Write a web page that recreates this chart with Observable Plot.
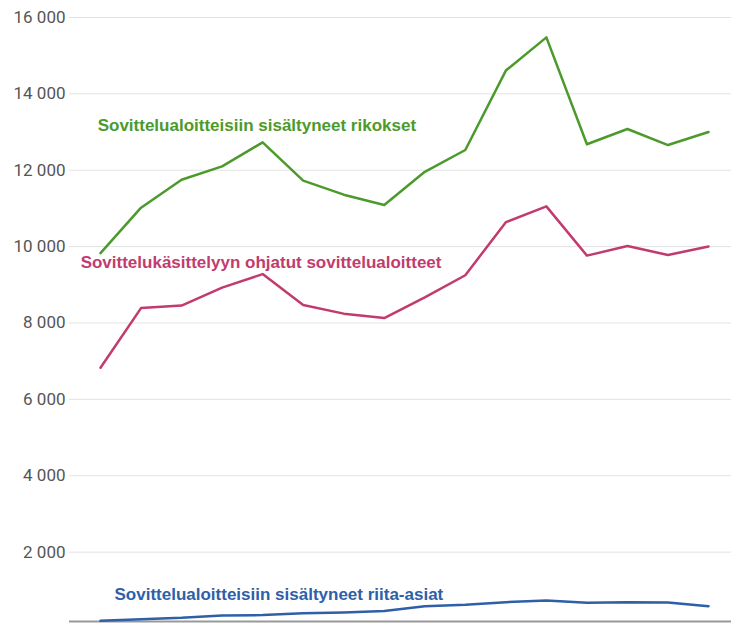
<!DOCTYPE html>
<html>
<head>
<meta charset="utf-8">
<script src="https://cdn.jsdelivr.net/npm/d3@7"></script>
<script src="https://cdn.jsdelivr.net/npm/@observablehq/plot@0.6"></script>
<style>
  html, body { margin: 0; padding: 0; background: #fff; }
  #chart svg { display: block; }
</style>
</head>
<body>
<div id="chart"></div>
<script>
const years = [2007, 2008, 2009, 2010, 2011, 2012, 2013, 2014, 2015, 2016, 2017, 2018, 2019, 2020, 2021, 2022];
const rikokset = [9830, 11020, 11750, 12100, 12730, 11730, 11360, 11090, 11960, 12530, 14610, 15480, 12680, 13080, 12660, 13000];
const ohjatut = [6830, 8390, 8455, 8925, 9280, 8470, 8245, 8130, 8670, 9250, 10640, 11055, 9765, 10015, 9780, 10005];
const riitaAsiat = [200, 245, 280, 340, 350, 400, 420, 455, 585, 620, 690, 735, 675, 690, 680, 585];
const seriesNames = [
  "Sovittelualoitteisiin sisältyneet rikokset",
  "Sovittelukäsittelyyn ohjatut sovittelualoitteet",
  "Sovittelualoitteisiin sisältyneet riita-asiat"
];
const yTicks = [2000, 4000, 6000, 8000, 10000, 12000, 14000, 16000];
// label anchors in data space (year offset from first year, value)
const labelYearOffset = [-0.07, -0.49, 0.345];
const labelValue = [13160, 9570, 880];

const colors = ["#4d9a2c", "#c23b6e", "#2e5fa8"];
const valuesBySeries = [rikokset, ohjatut, riitaAsiat];

const data = [];
seriesNames.forEach((s, i) => years.forEach((yr, j) => data.push({series: s, year: yr, value: valuesBySeries[i][j]})));
const labels = seriesNames.map((s, i) => ({series: s, year: years[0] + labelYearOffset[i], value: labelValue[i]}));

const fmt = d => d3.format(",")(d).replace(/,/g, " ");

const chart = Plot.plot({
  width: 731,
  height: 623,
  marginLeft: 69,
  marginRight: 0,
  marginTop: 17,
  marginBottom: 2,
  style: {fontFamily: "Roboto, sans-serif", background: "#fff"},
  x: {domain: [years[0] - 0.765, years[years.length - 1] + 0.567], axis: null},
  y: {domain: [183, 16000], axis: null},
  color: {domain: seriesNames, range: colors},
  marks: [
    Plot.ruleY(yTicks, {stroke: "#e2e2e2", strokeWidth: 1}),
    Plot.text(yTicks, {y: d => d, frameAnchor: "left", dx: -4, textAnchor: "end", text: fmt, fill: "#555", fontSize: 17}),
    Plot.ruleY([183], {stroke: "#999", strokeWidth: 2}),
    Plot.line(data, {x: "year", y: "value", stroke: "series", z: "series", strokeWidth: 2.5}),
    Plot.text(labels, {x: "year", y: "value", text: "series", fill: "series", textAnchor: "start",
      fontFamily: "Liberation Sans, Arial, sans-serif", fontWeight: "bold", fontSize: 17})
  ]
});
document.getElementById("chart").appendChild(chart);
</script>
</body>
</html>
